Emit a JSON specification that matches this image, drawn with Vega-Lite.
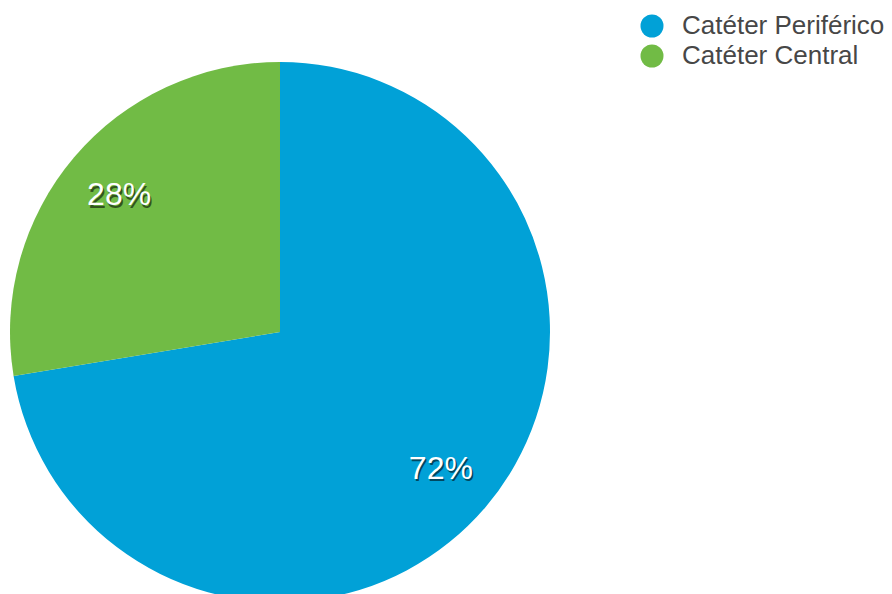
{
  "$schema": "https://vega.github.io/schema/vega-lite/v6.json",
  "width": 560,
  "height": 664,
  "padding": 0,
  "background": "white",
  "config": {"view": {"stroke": null}, "font": "Liberation Sans"},
  "data": {"values": [
    {"category": "Catéter Periférico", "value": 72.4, "label": "72%"},
    {"category": "Catéter Central", "value": 27.6, "label": "28%"}
  ]},
  "encoding": {
    "theta": {"field": "value", "type": "quantitative", "stack": true},
    "order": {"field": "value", "type": "quantitative", "sort": "descending"},
    "color": {
      "field": "category", "type": "nominal",
      "scale": {"domain": ["Catéter Periférico", "Catéter Central"], "range": ["#01A1D7", "#71BB45"]},
      "legend": {
        "title": null, "orient": "none", "legendX": 639, "legendY": 13,
        "symbolType": "circle", "symbolSize": 529, "symbolStrokeWidth": 0, "symbolOpacity": 1,
        "labelFontSize": 26, "labelColor": "#474747", "labelOffset": 17, "rowPadding": 4,
        "labelFont": "Liberation Sans", "labelLimit": 400
      }
    }
  },
  "layer": [
    {"mark": {"type": "arc", "outerRadius": 270}},
    {"mark": {"type": "text", "radius": 211, "fontSize": 32, "dx": 1.5, "dy": 2.5, "color": "#000000", "opacity": 0.55},
     "encoding": {"text": {"field": "label"}, "color": {"value": "#000000"}}},
    {"mark": {"type": "text", "radius": 211, "fontSize": 32},
     "encoding": {"text": {"field": "label"}, "color": {"value": "#ffffff"}}}
  ]
}
